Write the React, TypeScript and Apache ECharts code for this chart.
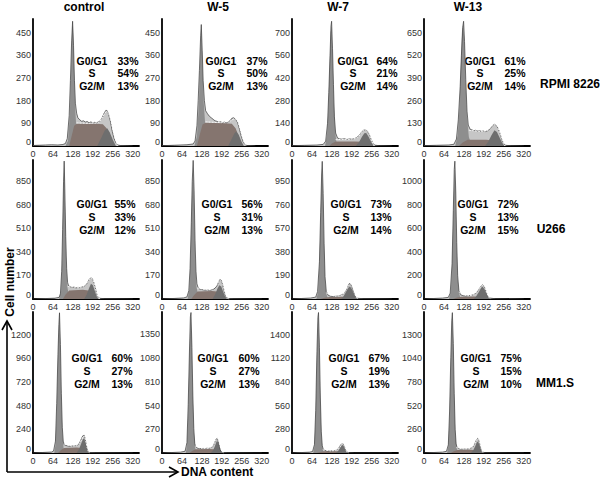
import React, { useEffect, useRef } from "react";
import * as echarts from "echarts";

// ---------- labels ----------
const columnTitles = ["control", "W-5", "W-7", "W-13"];
const rowLabels = ["RPMI 8226", "U266", "MM1.S"];
const phaseNames = ["G0/G1", "S", "G2/M"];

// percentages [G0/G1, S, G2/M] per panel (row-major)
const pctRpmi = [[33, 54, 13], [37, 50, 13], [64, 21, 14], [61, 25, 14]];
const pctU266 = [[55, 33, 12], [56, 31, 13], [73, 13, 14], [72, 13, 15]];
const pctMm1s = [[60, 27, 13], [60, 27, 13], [67, 19, 13], [75, 15, 10]];

// axis ticks
const xTickStep = 64;
const xTickLast = 320;
const xAxisMax = 340;
const yStepRpmi = [90, 90, 140, 130];
const yStepU266 = [170, 170, 190, 200];
const yStepMm1s = [240, 270, 280, 260];
const yMaxRpmi = [504, 504, 784, 728];
const yMaxU266 = [1003, 1003, 1121, 1180];
const yMaxMm1s = [1428, 1606, 1666, 1547];

// ---------- RPMI 8226 ----------
const rpmiControlRaw = [[0,2],[20,3],[40,4],[60,5],[80,4],[96,6],[104,10],[110,30],[116,120],[120,260],[124,420],[127,495],[130,400],[133,260],[136,170],[140,130],[144,112],[150,104],[156,98],[162,100],[168,95],[174,97],[180,92],[186,96],[192,90],[198,94],[204,92],[210,96],[216,100],[222,112],[228,130],[234,142],[238,140],[242,128],[248,100],[254,60],[260,30],[266,12],[272,4],[280,2],[300,1],[320,0]];
const rpmiControlG1 = [[104,0],[112,20],[118,120],[122,300],[126,470],[128,480],[131,330],[135,160],[140,50],[146,10],[152,0]];
const rpmiControlS = [[116,0],[124,40],[132,80],[140,88],[200,88],[224,86],[236,70],[248,40],[256,15],[262,0]];
const rpmiControlG2 = [[206,0],[218,30],[230,62],[238,70],[246,55],[256,25],[266,0]];
const rpmiControlFit = [[140,92],[180,90],[210,94],[222,110],[230,130],[236,138],[242,130],[250,100],[258,55],[266,20],[272,0]];

const rpmiW5Raw = [[0,1],[40,3],[80,5],[100,8],[106,20],[112,80],[116,180],[120,300],[124,440],[126,482],[129,380],[132,260],[136,180],[140,140],[146,128],[152,118],[158,112],[164,106],[170,100],[176,98],[182,94],[188,96],[194,92],[200,95],[206,92],[212,96],[218,100],[224,110],[230,112],[236,106],[242,95],[248,70],[254,40],[260,18],[266,6],[272,2],[300,0]];
const rpmiW5G1 = [[104,0],[112,40],[118,160],[122,330],[126,470],[130,320],[134,170],[140,60],[148,10],[156,0]];
const rpmiW5S = [[112,0],[120,40],[130,85],[140,92],[200,90],[224,88],[236,70],[246,40],[254,15],[262,0]];
const rpmiW5G2 = [[212,0],[222,25],[232,50],[238,58],[246,45],[254,20],[262,0]];
const rpmiW5Fit = [[140,96],[190,93],[220,100],[232,108],[240,104],[250,70],[258,35],[266,8],[272,0]];

const rpmiW7Raw = [[0,2],[40,4],[80,6],[100,10],[108,30],[114,140],[118,330],[122,560],[125,740],[127,770],[130,600],[133,380],[136,180],[140,80],[146,50],[152,44],[160,42],[168,45],[176,40],[184,44],[192,42],[200,46],[206,50],[212,58],[218,72],[224,88],[230,98],[236,100],[242,92],[248,70],[254,40],[260,15],[266,5],[280,2],[320,0]];
const rpmiW7G1 = [[106,0],[112,60],[116,200],[120,450],[124,700],[127,740],[130,560],[134,280],[138,100],[142,30],[148,0]];
const rpmiW7S = [[120,0],[128,15],[140,28],[200,28],[230,26],[246,14],[256,0]];
const rpmiW7G2 = [[204,0],[214,20],[224,55],[232,78],[238,80],[246,55],[254,25],[262,0]];
const rpmiW7Fit = [[140,40],[190,42],[210,52],[222,80],[232,100],[240,98],[248,70],[256,30],[264,0]];

const rpmiW13Raw = [[0,2],[40,4],[80,6],[96,10],[104,40],[110,150],[116,340],[120,520],[124,680],[127,715],[130,600],[134,380],[138,200],[142,120],[148,96],[154,92],[160,88],[166,90],[172,86],[178,88],[184,84],[190,86],[196,82],[202,86],[208,92],[214,104],[220,118],[226,124],[232,118],[238,100],[244,70],[250,35],[256,12],[262,4],[280,1],[320,0]];
const rpmiW13G1 = [[100,0],[108,60],[114,220],[118,450],[122,640],[126,700],[129,620],[133,380],[138,160],[144,50],[152,10],[158,0]];
const rpmiW13S = [[112,0],[124,20],[140,36],[200,36],[224,32],[240,18],[252,0]];
const rpmiW13G2 = [[196,0],[206,25],[216,60],[226,90],[234,80],[242,50],[250,20],[258,0]];
const rpmiW13Fit = [[144,90],[190,84],[206,92],[218,115],[226,122],[234,115],[244,70],[252,30],[260,0]];

// ---------- U266 ----------
const u266ControlRaw = [[0,0],[40,3],[70,6],[84,12],[88,40],[92,200],[95,500],[98,850],[100,995],[102,800],[105,450],[108,220],[111,120],[114,95],[120,88],[126,84],[132,86],[138,80],[144,84],[150,82],[156,86],[162,90],[168,98],[174,115],[180,140],[185,152],[190,148],[195,120],[200,80],[204,40],[208,15],[214,5],[230,2],[320,0]];
const u266ControlG1 = [[84,0],[90,60],[94,300],[97,700],[100,960],[103,650],[106,300],[110,90],[116,15],[122,0]];
const u266ControlS = [[96,0],[104,30],[116,62],[160,66],[178,62],[192,40],[202,15],[208,0]];
const u266ControlG2 = [[164,0],[172,30],[180,80],[186,110],[192,100],[198,60],[204,20],[210,0]];
const u266ControlFit = [[112,90],[150,84],[168,100],[178,130],[186,150],[192,140],[198,95],[204,45],[210,10],[216,0]];

const u266W5Raw = [[0,0],[40,4],[70,8],[80,15],[86,60],[90,220],[94,550],[97,850],[100,1000],[103,780],[106,420],[109,200],[112,110],[116,80],[122,70],[128,68],[134,66],[140,64],[146,66],[152,62],[158,66],[164,70],[170,78],[176,95],[182,125],[186,142],[190,135],[194,110],[198,70],[202,35],[206,12],[212,4],[230,1],[320,0]];
const u266W5G1 = [[82,0],[88,70],[92,320],[96,720],[100,950],[103,700],[106,330],[110,100],[116,20],[122,0]];
const u266W5S = [[94,0],[102,25],[114,55],[160,58],[176,54],[190,36],[200,12],[206,0]];
const u266W5G2 = [[162,0],[170,30],[178,75],[184,100],[190,90],[196,55],[202,20],[208,0]];
const u266W5Fit = [[112,80],[150,66],[166,78],[178,110],[186,138],[192,128],[198,80],[204,30],[210,5],[216,0]];

const u266W7Raw = [[0,0],[30,4],[60,8],[76,15],[82,60],[88,300],[92,700],[95,1000],[97,1110],[100,850],[103,450],[106,180],[110,60],[116,30],[124,22],[132,20],[140,22],[148,24],[156,30],[164,40],[170,55],[176,80],[180,105],[184,125],[188,120],[192,100],[196,70],[200,40],[204,18],[210,6],[230,2],[320,0]];
const u266W7G1 = [[78,0],[84,60],[88,280],[92,680],[96,1050],[99,900],[102,500],[106,160],[110,40],[116,0]];
const u266W7S = [[92,0],[104,10],[120,16],[160,18],[176,16],[190,10],[200,0]];
const u266W7G2 = [[158,0],[166,25],[174,60],[182,95],[186,100],[192,80],[198,45],[204,15],[210,0]];
const u266W7Fit = [[110,50],[140,22],[160,32],[172,65],[182,110],[188,122],[194,95],[200,50],[206,15],[212,0]];

const u266W13Raw = [[0,0],[30,4],[60,8],[78,14],[84,50],[90,300],[94,750],[97,1100],[99,1170],[102,900],[105,480],[108,200],[112,70],[118,35],[126,28],[134,26],[142,28],[150,30],[158,36],[166,48],[172,66],[178,90],[184,112],[188,121],[192,112],[196,88],[200,55],[204,25],[210,8],[230,2],[320,0]];
const u266W13G1 = [[80,0],[86,60],[90,280],[94,700],[98,1100],[101,950],[104,520],[108,180],[112,50],[118,0]];
const u266W13S = [[94,0],[106,12],[120,20],[160,22],[178,20],[192,12],[202,0]];
const u266W13G2 = [[160,0],[168,25],[176,60],[184,98],[188,105],[194,82],[200,45],[206,15],[212,0]];
const u266W13Fit = [[112,60],[140,28],[160,38],[174,75],[184,110],[190,118],[196,92],[202,50],[208,15],[214,0]];

// ---------- MM1.S ----------
const mm1sControlRaw = [[0,0],[30,5],[60,10],[66,20],[72,120],[76,500],[80,1000],[83,1300],[85,1420],[88,1100],[91,600],[94,260],[97,120],[100,85],[106,76],[112,72],[118,68],[124,72],[130,70],[136,74],[142,78],[148,96],[152,120],[156,150],[160,175],[164,180],[167,150],[170,100],[173,50],[176,20],[180,6],[200,2],[320,0]];
const mm1sControlG1 = [[68,0],[72,80],[76,420],[80,950],[84,1380],[87,1150],[90,650],[94,220],[98,50],[104,0]];
const mm1sControlS = [[80,0],[90,30],[100,50],[140,55],[156,50],[168,30],[178,0]];
const mm1sControlG2 = [[140,0],[148,40],[154,90],[160,140],[164,150],[168,110],[172,55],[176,15],[180,0]];
const mm1sControlFit = [[100,90],[130,70],[146,90],[156,135],[162,170],[166,165],[170,110],[174,50],[178,10],[182,0]];

const mm1sW5Raw = [[0,0],[30,5],[60,10],[74,20],[80,120],[84,550],[88,1150],[91,1550],[93,1600],[96,1200],[99,650],[102,280],[105,110],[108,70],[114,56],[120,52],[126,50],[132,52],[138,50],[144,54],[150,52],[156,58],[162,70],[166,95],[170,130],[174,160],[177,166],[180,140],[183,95],[186,50],[189,20],[194,6],[210,2],[320,0]];
const mm1sW5G1 = [[76,0],[80,80],[84,450],[88,1100],[92,1560],[95,1300],[98,750],[102,250],[106,60],[112,0]];
const mm1sW5S = [[88,0],[98,25],[108,42],[150,45],[166,42],[178,25],[188,0]];
const mm1sW5G2 = [[156,0],[164,30],[170,80],[175,130],[178,135],[182,100],[186,50],[190,15],[194,0]];
const mm1sW5Fit = [[106,80],[130,52],[156,58],[166,100],[172,145],[177,165],[181,150],[185,100],[189,45],[194,10],[198,0]];

const mm1sW7Raw = [[0,0],[30,5],[56,10],[66,18],[72,100],[76,500],[80,1200],[83,1600],[85,1660],[88,1250],[91,650],[94,250],[97,90],[100,45],[106,30],[112,26],[118,24],[124,26],[130,24],[136,28],[142,32],[148,48],[152,70],[156,95],[160,110],[163,112],[166,95],[169,65],[172,35],[176,12],[182,4],[200,1],[320,0]];
const mm1sW7G1 = [[68,0],[72,80],[76,450],[80,1150],[84,1620],[87,1350],[90,750],[94,220],[98,40],[104,0]];
const mm1sW7S = [[80,0],[92,12],[104,20],[140,22],[152,18],[164,10],[174,0]];
const mm1sW7G2 = [[140,0],[148,25],[154,60],[159,90],[163,95],[167,70],[171,35],[175,10],[179,0]];
const mm1sW7Fit = [[100,40],[126,25],[144,36],[152,62],[158,95],[162,110],[166,100],[170,65],[174,28],[178,6],[182,0]];

const mm1sW13Raw = [[0,0],[30,5],[60,10],[72,18],[78,90],[82,450],[86,1050],[89,1450],[91,1540],[94,1200],[97,650],[100,260],[103,100],[106,60],[112,48],[118,44],[124,42],[130,44],[136,42],[142,46],[148,50],[154,58],[160,80],[164,110],[168,142],[172,160],[175,150],[178,110],[181,65],[184,30],[188,10],[196,3],[320,0]];
const mm1sW13G1 = [[74,0],[78,70],[82,400],[86,1000],[90,1500],[93,1300],[96,750],[100,250],[104,60],[110,0]];
const mm1sW13S = [[86,0],[96,20],[108,32],[150,35],[164,30],[176,15],[186,0]];
const mm1sW13G2 = [[150,0],[158,30],[164,70],[169,115],[173,125],[177,95],[181,50],[185,15],[189,0]];
const mm1sW13Fit = [[104,60],[130,44],[152,56],[162,90],[168,135],[172,156],[176,145],[180,95],[184,45],[188,12],[192,0]];

const panelData = [
  [rpmiControlRaw, rpmiControlG1, rpmiControlS, rpmiControlG2, rpmiControlFit],
  [rpmiW5Raw, rpmiW5G1, rpmiW5S, rpmiW5G2, rpmiW5Fit],
  [rpmiW7Raw, rpmiW7G1, rpmiW7S, rpmiW7G2, rpmiW7Fit],
  [rpmiW13Raw, rpmiW13G1, rpmiW13S, rpmiW13G2, rpmiW13Fit],
  [u266ControlRaw, u266ControlG1, u266ControlS, u266ControlG2, u266ControlFit],
  [u266W5Raw, u266W5G1, u266W5S, u266W5G2, u266W5Fit],
  [u266W7Raw, u266W7G1, u266W7S, u266W7G2, u266W7Fit],
  [u266W13Raw, u266W13G1, u266W13S, u266W13G2, u266W13Fit],
  [mm1sControlRaw, mm1sControlG1, mm1sControlS, mm1sControlG2, mm1sControlFit],
  [mm1sW5Raw, mm1sW5G1, mm1sW5S, mm1sW5G2, mm1sW5Fit],
  [mm1sW7Raw, mm1sW7G1, mm1sW7S, mm1sW7G2, mm1sW7Fit],
  [mm1sW13Raw, mm1sW13G1, mm1sW13S, mm1sW13G2, mm1sW13Fit],
];
const yStepsAll = [...yStepRpmi, ...yStepU266, ...yStepMm1s];
const yMaxAll = [...yMaxRpmi, ...yMaxU266, ...yMaxMm1s];
const pctAll = [...pctRpmi, ...pctU266, ...pctMm1s];

// ---------- layout (pixels) ----------
const FONT = '"Liberation Sans", Arial, sans-serif';
const colLeft = [33, 162, 292, 424];
const panelWidth = 106;
const rowTop = [19, 160, 312];
const rowHeight = [127, 139, 141];
const titleX = [84, 218, 338, 468];
const rowLabelPos = [[570, 84], [551, 229], [555, 383]];
const phaseTextY = [[60.5, 73, 86], [204, 217, 230], [358, 371, 383.5]];
const phaseLabelX = [[92, 221, 353, 480], [92, 217, 346, 473], [87, 213, 344, 476]];
const phasePctX = [[128, 257, 387, 515], [125, 252, 381, 508], [122, 249, 379, 511]];

function buildOption() {
  const grid: any[] = [];
  const xAxis: any[] = [];
  const yAxis: any[] = [];
  const series: any[] = [];
  const graphic: any[] = [];

  panelData.forEach((pd, i) => {
    const r = Math.floor(i / 4);
    const c = i % 4;
    const step = yStepsAll[i];
    grid.push({ left: colLeft[c], top: rowTop[r], width: panelWidth, height: rowHeight[r] });
    xAxis.push({
      type: "value", gridIndex: i, min: 0, max: xAxisMax, interval: xTickStep,
      axisLine: { show: true, onZero: false, lineStyle: { color: "#000", width: 1.8 } },
      axisTick: { show: false }, splitLine: { show: false },
      axisLabel: {
        fontSize: 9, fontFamily: FONT, color: "#333", margin: 3,
        showMaxLabel: false,
        formatter: (v: number) => (v % xTickStep === 0 && v <= xTickLast ? String(v) : ""),
      },
    });
    yAxis.push({
      type: "value", gridIndex: i, min: 0, max: yMaxAll[i], interval: step,
      axisLine: { show: true, onZero: false, lineStyle: { color: "#000", width: 1.8 } },
      axisTick: { show: false }, splitLine: { show: false },
      axisLabel: {
        fontSize: 9, fontFamily: FONT, color: "#333", margin: 2,
        showMaxLabel: false,
        formatter: (v: number) => (v === 0 ? "{z|0}" : v % step === 0 ? String(v) : ""),
        rich: { z: { fontSize: 9, fontFamily: FONT, color: "#333", padding: [0, 0, 9, 0] } },
      },
    });
    const common = { type: "line", xAxisIndex: i, yAxisIndex: i, showSymbol: false, symbol: "none", silent: true };
    series.push({ ...common, data: pd[0], lineStyle: { color: "#3a3a3a", width: 0.7 }, areaStyle: { color: "#c6c6c6", opacity: 1 } });
    series.push({ ...common, data: pd[1], lineStyle: { opacity: 0 }, areaStyle: { color: "#8e8e8e", opacity: 1 } });
    series.push({ ...common, data: pd[2], lineStyle: { opacity: 0 }, areaStyle: { color: "#85756f", opacity: 1 } });
    series.push({ ...common, data: pd[3], lineStyle: { opacity: 0 }, areaStyle: { color: "#6e6e6e", opacity: 1 } });
    series.push({ ...common, data: pd[4], smooth: 0.3, lineStyle: { color: "#fff", width: 0.9, type: [2, 1] } });

    const pct = pctAll[i];
    phaseNames.forEach((name, k) => {
      graphic.push({
        type: "text", x: phaseLabelX[r][c], y: phaseTextY[r][k], silent: true,
        style: { text: name, font: `bold 10.5px ${FONT}`, fill: "#000", align: "center", verticalAlign: "middle" },
      });
      graphic.push({
        type: "text", x: phasePctX[r][c], y: phaseTextY[r][k], silent: true,
        style: { text: `${pct[k]}%`, font: `bold 10.5px ${FONT}`, fill: "#000", align: "center", verticalAlign: "middle" },
      });
    });
  });

  columnTitles.forEach((t, c) => {
    graphic.push({
      type: "text", x: titleX[c], y: 7, silent: true,
      style: { text: t, font: `bold 12px ${FONT}`, fill: "#000", align: "center", verticalAlign: "middle" },
    });
  });
  rowLabels.forEach((t, r) => {
    graphic.push({
      type: "text", x: rowLabelPos[r][0], y: rowLabelPos[r][1], silent: true,
      style: { text: t, font: `bold 12px ${FONT}`, fill: "#000", align: "center", verticalAlign: "middle" },
    });
  });

  // big axis arrows
  graphic.push({ type: "line", silent: true, shape: { x1: 7, y1: 321, x2: 7, y2: 472 }, style: { stroke: "#000", lineWidth: 1.6 } });
  graphic.push({ type: "line", silent: true, shape: { x1: 7, y1: 472, x2: 177, y2: 472 }, style: { stroke: "#000", lineWidth: 1.6 } });
  graphic.push({ type: "polyline", silent: true, shape: { points: [[2, 330], [7, 321], [12, 330]] }, style: { stroke: "#000", lineWidth: 1.6, fill: null } });
  graphic.push({ type: "polyline", silent: true, shape: { points: [[169, 467], [178, 472], [169, 477]] }, style: { stroke: "#000", lineWidth: 1.6, fill: null } });
  graphic.push({
    type: "text", x: 10, y: 282, rotation: Math.PI / 2, silent: true,
    style: { text: "Cell number", font: `bold 12px ${FONT}`, fill: "#000", align: "center", verticalAlign: "middle" },
  });
  graphic.push({
    type: "text", x: 181, y: 472, silent: true,
    style: { text: "DNA content", font: `bold 12px ${FONT}`, fill: "#000", align: "left", verticalAlign: "middle" },
  });

  return { animation: false, backgroundColor: "#fff", grid, xAxis, yAxis, series, graphic };
}

export default function App() {
  const ref = useRef<HTMLDivElement>(null);
  useEffect(() => {
    if (!ref.current) return;
    const chart = echarts.init(ref.current, undefined, { renderer: "svg" });
    chart.setOption(buildOption() as any);
    return () => chart.dispose();
  }, []);
  return <div ref={ref} style={{ position: "fixed", left: 0, top: 0, width: 600, height: 481 }} />;
}
